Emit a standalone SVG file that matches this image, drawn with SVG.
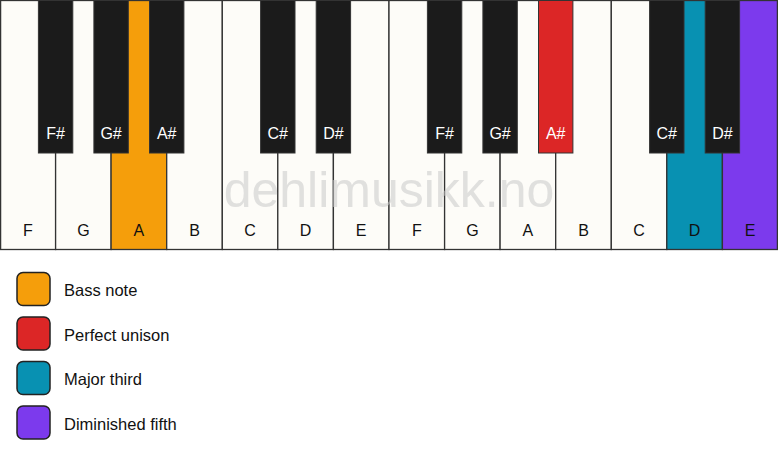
<svg xmlns="http://www.w3.org/2000/svg" width="778" height="461" viewBox="0 0 778 461">
<style>
.w{fill:#fdfcf8;stroke:#333;stroke-width:1.3}
.b{fill:#1b1b1b;stroke:#333;stroke-width:1}
.wl{font-family:"Liberation Sans",Arial,sans-serif;font-size:16px;fill:#111;text-anchor:middle}
.bl{font-family:"Liberation Sans",Arial,sans-serif;font-size:16px;fill:#fff;text-anchor:middle}
.sw{stroke:#222;stroke-width:1.5}
.lt{font-family:"Liberation Sans",Arial,sans-serif;font-size:16.5px;fill:#111}
.wm{font-family:"Liberation Sans",Arial,sans-serif;font-size:50px;fill:#c8c8c8;fill-opacity:0.55;text-anchor:middle}
</style>
<rect x="0" y="0" width="778" height="461" fill="#ffffff"/>
<g id="white-keys">
<g id="wk-F1"><rect class="w" x="0.6" y="0.5" width="55" height="249"/><text class="wl" x="27.8" y="236">F</text></g>
<g id="wk-G1"><rect class="w" x="55.6" y="0.5" width="55.5" height="249"/><text class="wl" x="83.4" y="236">G</text></g>
<g id="wk-A1"><rect class="w" x="111.1" y="0.5" width="55.6" height="249" style="fill:#f59e0b"/><text class="wl" x="138.9" y="236">A</text></g>
<g id="wk-B1"><rect class="w" x="166.7" y="0.5" width="55.6" height="249"/><text class="wl" x="194.5" y="236">B</text></g>
<g id="wk-C1"><rect class="w" x="222.3" y="0.5" width="55.5" height="249"/><text class="wl" x="250.1" y="236">C</text></g>
<g id="wk-D1"><rect class="w" x="277.8" y="0.5" width="55.6" height="249"/><text class="wl" x="305.6" y="236">D</text></g>
<g id="wk-E1"><rect class="w" x="333.4" y="0.5" width="55.6" height="249"/><text class="wl" x="361.2" y="236">E</text></g>
<g id="wk-F2"><rect class="w" x="389" y="0.5" width="55.6" height="249"/><text class="wl" x="416.8" y="236">F</text></g>
<g id="wk-G2"><rect class="w" x="444.6" y="0.5" width="55.5" height="249"/><text class="wl" x="472.4" y="236">G</text></g>
<g id="wk-A2"><rect class="w" x="500.1" y="0.5" width="55.6" height="249"/><text class="wl" x="527.9" y="236">A</text></g>
<g id="wk-B2"><rect class="w" x="555.7" y="0.5" width="55.6" height="249"/><text class="wl" x="583.5" y="236">B</text></g>
<g id="wk-C2"><rect class="w" x="611.3" y="0.5" width="55.5" height="249"/><text class="wl" x="639.1" y="236">C</text></g>
<g id="wk-D2"><rect class="w" x="666.8" y="0.5" width="55.6" height="249" style="fill:#0891b2"/><text class="wl" x="694.6" y="236">D</text></g>
<g id="wk-E2"><rect class="w" x="722.4" y="0.5" width="55" height="249" style="fill:#7c3aed"/><text class="wl" x="750.2" y="236">E</text></g>
</g>
<text class="wm" x="389" y="207">dehlimusikk.no</text>
<g id="black-keys">
<g id="bk-Fs1"><rect class="b" x="38.4" y="0.5" width="34.4" height="152.5"/><text class="bl" x="55.6" y="139">F#</text></g>
<g id="bk-Gs1"><rect class="b" x="93.9" y="0.5" width="34.4" height="152.5"/><text class="bl" x="111.1" y="139">G#</text></g>
<g id="bk-As1"><rect class="b" x="149.5" y="0.5" width="34.4" height="152.5"/><text class="bl" x="166.7" y="139">A#</text></g>
<g id="bk-Cs1"><rect class="b" x="260.6" y="0.5" width="34.4" height="152.5"/><text class="bl" x="277.8" y="139">C#</text></g>
<g id="bk-Ds1"><rect class="b" x="316.2" y="0.5" width="34.4" height="152.5"/><text class="bl" x="333.4" y="139">D#</text></g>
<g id="bk-Fs2"><rect class="b" x="427.4" y="0.5" width="34.4" height="152.5"/><text class="bl" x="444.6" y="139">F#</text></g>
<g id="bk-Gs2"><rect class="b" x="482.9" y="0.5" width="34.4" height="152.5"/><text class="bl" x="500.1" y="139">G#</text></g>
<g id="bk-As2"><rect class="b" x="538.5" y="0.5" width="34.4" height="152.5" style="fill:#dc2626"/><text class="bl" x="555.7" y="139">A#</text></g>
<g id="bk-Cs2"><rect class="b" x="649.6" y="0.5" width="34.4" height="152.5"/><text class="bl" x="666.8" y="139">C#</text></g>
<g id="bk-Ds2"><rect class="b" x="705.2" y="0.5" width="34.4" height="152.5"/><text class="bl" x="722.4" y="139">D#</text></g>
</g>
<g id="connectors"></g>
<g id="legend">
<g id="lg-bass"><rect class="sw" x="17" y="272.5" width="33" height="33" rx="6" fill="#f59e0b"/><text class="lt" x="64" y="296">Bass note</text></g>
<g id="lg-unison"><rect class="sw" x="17" y="317" width="33" height="33" rx="6" fill="#dc2626"/><text class="lt" x="64" y="340.5">Perfect unison</text></g>
<g id="lg-third"><rect class="sw" x="17" y="361.5" width="33" height="33" rx="6" fill="#0891b2"/><text class="lt" x="64" y="385">Major third</text></g>
<g id="lg-fifth"><rect class="sw" x="17" y="406" width="33" height="33" rx="6" fill="#7c3aed"/><text class="lt" x="64" y="429.5">Diminished fifth</text></g>
</g>
</svg>
